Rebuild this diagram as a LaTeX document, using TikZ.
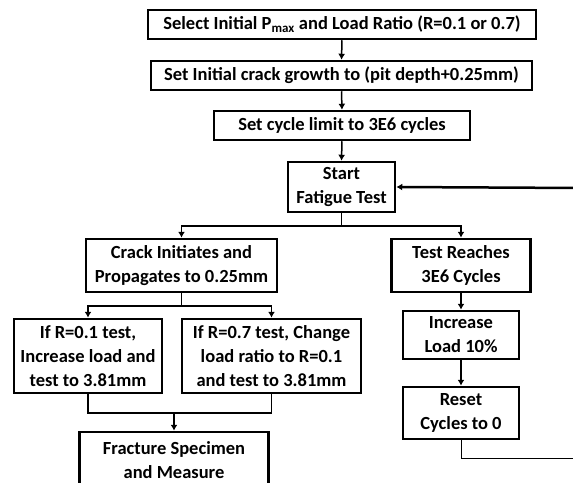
\documentclass[tikz,border=0pt]{standalone}
\usepackage{fontspec}
\setmainfont{Carlito}
\usetikzlibrary{arrows.meta}
\begin{document}
\begin{tikzpicture}[x=1pt,y=-1pt,
  box/.style={draw=black,line width=2.5pt,rectangle,inner sep=0pt,align=center,
    font=\bfseries\fontsize{18.5}{24}\selectfont},
  conn/.style={line width=1.5pt},
  arr/.style={conn,-{Latex[length=6pt,width=7pt]}},
  thickarr/.style={line width=2.5pt,-{Latex[length=6pt,width=7pt]}},
]
\useasboundingbox (0,0) rectangle (573,482);
\clip (0,0) rectangle (573,482);
\node[box,minimum width=388,minimum height=29] (b1) at (342,24.5) {Select Initial P\textsubscript{max} and Load Ratio (R=0.1 or 0.7)};
\node[box,minimum width=381,minimum height=29] (b2) at (341.5,75.5) {Set Initial crack growth to (pit depth+0.25mm)};
\node[box,minimum width=256,minimum height=29] (b3) at (342,125.5) {Set cycle limit to 3E6 cycles};
\node[box,minimum width=107,minimum height=50] (start) at (341.5,187) {Start\\Fatigue Test};
\node[box,minimum width=191,minimum height=53] (crack) at (181.5,265.5) {Crack Initiates and\\Propagates to 0.25mm};
\node[box,minimum width=139,minimum height=53] (test) at (461,265.5) {Test Reaches\\3E6 Cycles};
\node[box,minimum width=148,minimum height=74] (ifL) at (88,356) {If R=0.1 test,\\Increase load and\\test to 3.81mm};
\node[box,minimum width=179,minimum height=74] (ifR) at (271.5,356) {If R=0.7 test, Change\\load ratio to R=0.1\\and test to 3.81mm};
\node[box,minimum width=116,minimum height=48] (inc) at (461,335) {Increase\\Load 10\%};
\node[box,minimum width=116,minimum height=52] (reset) at (461,413) {Reset\\Cycles to 0};
\node[box,minimum width=189,minimum height=56] (frac) at (174,460) {Fracture Specimen\\and Measure};
% connectors
\draw[arr] (b1.south) -- (b2.north);
\draw[arr] (b2.south) -- (b3.north);
\draw[arr] (b3.south) -- (start.north);
\coordinate (s1) at (341.5,226);
\draw[conn] (start.south) -- (s1);
\draw[arr] (s1) -| (crack.north);
\draw[arr] (s1) -| (test.north);
\coordinate (s2) at (181.5,306);
\draw[conn] (crack.south) -- (s2);
\draw[arr] (s2) -| (ifL.north);
\draw[arr] (s2) -| (ifR.north);
\coordinate (m) at (174,413);
\draw[conn] (ifL.south) |- (m) -| (ifR.south);
\draw[arr] (m) -- (frac.north);
\draw[thickarr] (test.south) -- (inc.north);
\draw[thickarr] (inc.south) -- (reset.north);
\coordinate (fb1) at (582,458);
\coordinate (fb2) at (582,188);
\draw[line width=1pt] (reset.south) |- (fb1) -- (fb2);
\draw[thickarr] (fb2) -- (start.east);
\end{tikzpicture}
\end{document}
